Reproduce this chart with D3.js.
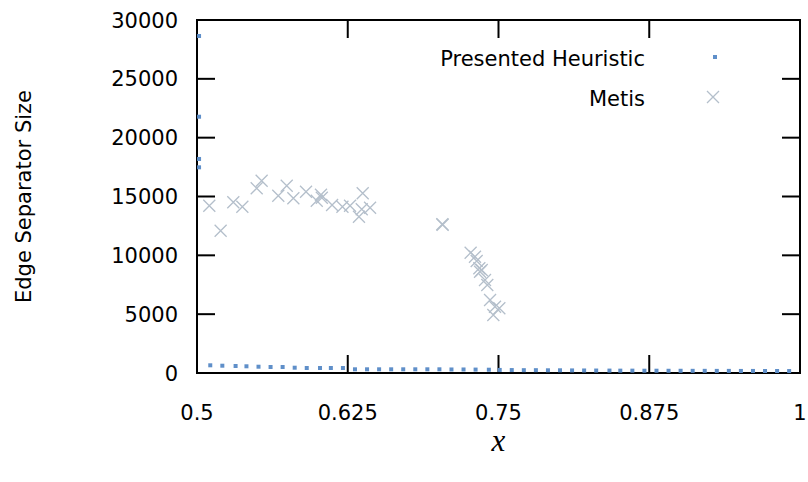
<!DOCTYPE html>
<html>
<head>
<meta charset="utf-8">
<script src="https://cdn.jsdelivr.net/npm/d3@7"></script>
<style>
  body { margin: 0; background: #fff; }
  svg { display: block; }
  text { font-family: "DejaVu Sans", sans-serif; font-size: 21px; fill: #000; }
</style>
</head>
<body>
<div id="container"></div>
<script>
// Presented Heuristic: values
var heurX = [0.5017, 0.5017, 0.5017, 0.5017,
    0.511, 0.521, 0.532, 0.541, 0.551, 0.561, 0.571, 0.581, 0.591, 0.602,
    0.611, 0.621, 0.631, 0.641, 0.651, 0.661, 0.671, 0.681, 0.691, 0.701,
    0.711, 0.721, 0.731, 0.742, 0.751, 0.761, 0.771, 0.781, 0.791, 0.801,
    0.811, 0.821, 0.831, 0.842, 0.851, 0.861, 0.871, 0.881, 0.891, 0.901,
    0.911, 0.921, 0.931, 0.941, 0.951, 0.961, 0.971, 0.981, 0.991];
var heurY = [28640, 21780, 18190, 17480,
    654, 620, 595, 570, 535, 510, 510, 450, 425, 425,
    425, 425, 314, 314, 314, 314, 314, 314, 314, 314,
    300, 300, 290, 280, 260, 250, 240, 240, 230, 230,
    220, 215, 210, 205, 200, 200, 195, 195, 190, 190,
    185, 185, 180, 180, 175, 175, 170, 170, 165];

// Metis
var metisX = [0.5102, 0.5196, 0.5301, 0.5376, 0.5495, 0.5536, 0.5674, 0.5744,
    0.5799, 0.5904, 0.5993, 0.6028, 0.6120, 0.6206, 0.6269, 0.6343, 0.6374, 0.6366,
    0.6435, 0.6035, 0.7034, 0.7037,
    0.7269, 0.7305, 0.7319, 0.7341, 0.7361, 0.7347, 0.7388, 0.7407, 0.7430,
    0.7471, 0.7457, 0.7507];
var metisY = [14218, 12094, 14507, 14133, 15697, 16343, 15068, 15918,
    14847, 15408, 14643, 15153, 14278, 14133, 14218, 13283, 15272, 13912,
    14048, 14900, 12637, 12600,
    10224, 9884, 9518, 8898, 8754, 8609, 7904, 7479, 6204,
    5635, 4929, 5499];

var xTicks = [0.5, 0.625, 0.75, 0.875, 1];
var xTickLabels = ["0.5", "0.625", "0.75", "0.875", "1"];
var yTicks = [0, 5000, 10000, 15000, 20000, 25000, 30000];
var seriesNames = ["Presented Heuristic", "Metis"];

var width = 808, height = 482;
var margin = {top: 20, right: 8, bottom: 109, left: 197};
var blue = "#5f8fc9", grey = "#b4bfcb";

var svg = d3.select("#container")
    .append("svg")
    .attr("width", width)
    .attr("height", height);

var x = d3.scaleLinear()
    .domain([0.5, 1])
    .range([margin.left, width - margin.right]);
var y = d3.scaleLinear()
    .domain([0, 30000])
    .range([height - margin.bottom, margin.top]);

var tickLen = 18;
var x0 = x(0.5), x1 = x(1), y0 = y(0), y1 = y(30000);

// tick marks, inward on all four sides (gnuplot style mirror)
var ticks = svg.append("g").attr("stroke", "#000").attr("stroke-width", 2);
xTicks.forEach(function(t) {
    ticks.append("line").attr("x1", x(t)).attr("x2", x(t)).attr("y1", y0).attr("y2", y0 - tickLen);
    ticks.append("line").attr("x1", x(t)).attr("x2", x(t)).attr("y1", y1).attr("y2", y1 + tickLen);
});
yTicks.forEach(function(t) {
    ticks.append("line").attr("x1", x0).attr("x2", x0 + tickLen).attr("y1", y(t)).attr("y2", y(t));
    ticks.append("line").attr("x1", x1).attr("x2", x1 - tickLen).attr("y1", y(t)).attr("y2", y(t));
});

// tick labels
svg.append("g")
    .selectAll("text")
    .data(xTicks)
    .enter()
    .append("text")
        .attr("x", function(d) { return x(d); })
        .attr("y", y0 + 47)
        .attr("text-anchor", "middle")
        .text(function(d, i) { return xTickLabels[i]; });
svg.append("g")
    .selectAll("text")
    .data(yTicks)
    .enter()
    .append("text")
        .attr("x", x0 - 19)
        .attr("y", function(d) { return y(d) + 7.6; })
        .attr("text-anchor", "end")
        .text(function(d) { return d3.format("d")(d); });

// frame
svg.append("rect")
    .attr("x", x0)
    .attr("y", y1)
    .attr("width", x1 - x0)
    .attr("height", y0 - y1)
    .attr("fill", "none")
    .attr("stroke", "#000")
    .attr("stroke-width", 2);

// Metis crosses
var cr = 6;
function cross(g, cx, cy) {
    g.append("path")
        .attr("d", "M" + (cx - cr) + "," + (cy - cr) + "L" + (cx + cr) + "," + (cy + cr) +
                   "M" + (cx - cr) + "," + (cy + cr) + "L" + (cx + cr) + "," + (cy - cr))
        .attr("stroke", grey)
        .attr("stroke-width", 1.3)
        .attr("fill", "none");
}
var mg = svg.append("g");
metisX.forEach(function(v, i) { cross(mg, x(v), y(metisY[i])); });

// heuristic squares
svg.append("g")
    .selectAll("rect")
    .data(heurX)
    .enter()
    .append("rect")
        .attr("x", function(d) { return x(d) - 2; })
        .attr("y", function(d, i) { return y(heurY[i]) - 2; })
        .attr("width", 4)
        .attr("height", 4)
        .attr("fill", blue);

// legend
svg.append("text")
    .attr("x", 645).attr("y", 66)
    .attr("text-anchor", "end")
    .text(seriesNames[0]);
svg.append("rect")
    .attr("x", 713).attr("y", 55)
    .attr("width", 4).attr("height", 4)
    .attr("fill", blue);
svg.append("text")
    .attr("x", 645).attr("y", 106)
    .attr("text-anchor", "end")
    .text(seriesNames[1]);
cross(svg, 713, 97);

// axis titles
svg.append("text")
    .attr("transform", "translate(31," + ((y0 + y1) / 2) + ") rotate(-90)")
    .attr("text-anchor", "middle")
    .text("Edge Separator Size");
svg.append("text")
    .attr("x", (x0 + x1) / 2)
    .attr("y", 451)
    .attr("text-anchor", "middle")
    .style("font-family", "Liberation Serif, serif")
    .style("font-style", "italic")
    .style("font-size", "31px")
    .text("x");
</script>
</body>
</html>
